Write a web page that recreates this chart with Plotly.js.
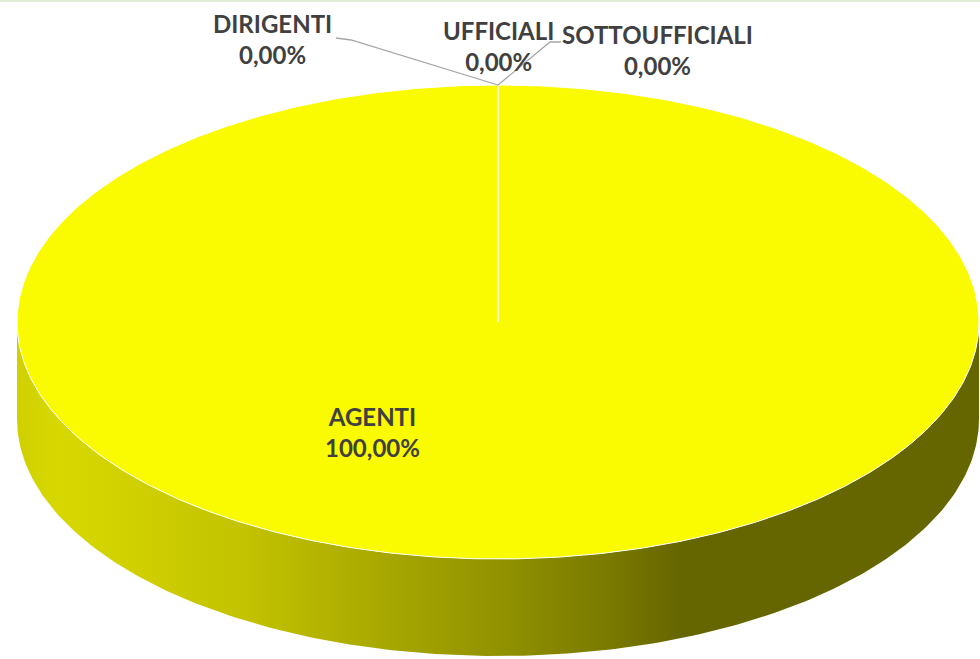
<!DOCTYPE html>
<html>
<head>
<meta charset="utf-8">
<script src="https://cdn.plot.ly/plotly-3.0.1.min.js"></script>
<style>html,body{margin:0;padding:0;background:#fff;}#chart{width:980px;height:659px;}</style>
</head>
<body>
<div id="chart"></div>
<script>
// ---- data ----
const labels = ['DIRIGENTI', 'UFFICIALI', 'SOTTOUFFICIALI', 'AGENTI'];
const values = [0, 0, 0, 100];
const topColors = ['#4f81bd', '#c0504d', '#9bbb59', '#fafa00'];
const wallScales = [
  [[0, '#3a6090'], [1, '#1f3550']],
  [[0, '#903c3a'], [1, '#502020']],
  [[0, '#748c43'], [1, '#3f4c24']],
  [[0, '#d0d000'], [0.045, '#d8d800'], [0.24, '#c2c200'], [0.40, '#a4a400'], [0.50, '#929200'], [0.606, '#7c7c00'], [0.69, '#666600'], [1, '#666600']]
];

// ---- geometry (layout) ----
const W = 980, H = 659;
const CX = 498, CY = 322, RX = 481, RY = 237, DEPTH = 97;
const labelPos = [
  {x: 272, y: 39, path: [[336, 38], [351, 40]]},
  {x: 498, y: 46, path: null},
  {x: 657, y: 50, path: [[561, 42], [550, 42]]},
  {x: 372, y: 432, path: null}
];
const FONT = {family: 'Lato, "Open Sans", sans-serif', size: 24, color: '#404040', weight: 'bold'};

function pt(aDeg, dy) {
  const a = aDeg * Math.PI / 180;
  return [CX + RX * Math.sin(a), CY - RY * Math.cos(a) + (dy || 0)];
}
function fmt(p) { return p.toFixed(2).replace('.', ',') + '%'; }

const total = values.reduce((s, v) => s + v, 0);
const traces = [];
const tops = [];
const shapes = [];
const annotations = [];
let acc = 0;
values.forEach((v, i) => {
  const a0 = acc / total * 360;
  const a1 = (acc + v) / total * 360;
  acc += v;
  // visible wall: front half is 90..270 degrees
  const w0 = Math.max(a0, 90), w1 = Math.min(a1, 270);
  if (w1 > w0) {
    const xs = [], ys = [];
    const n = 240;
    for (let k = 0; k <= n; k++) {
      const a = w0 + (w1 - w0) * k / n;
      const p = pt(a, 0); xs.push(p[0]); ys.push(p[1]);
    }
    for (let k = n; k >= 0; k--) {
      const a = w0 + (w1 - w0) * k / n;
      const p = pt(a, DEPTH); xs.push(p[0]); ys.push(p[1]);
    }
    xs.push(xs[0]); ys.push(ys[0]);
    traces.push({
      type: 'scatter', mode: 'lines', x: xs, y: ys, fill: 'toself',
      line: {width: 0, color: 'rgba(0,0,0,0)'},
      fillgradient: {type: 'horizontal', colorscale: wallScales[i], start: CX - RX, stop: CX + RX},
      hoverinfo: 'skip', showlegend: false
    });
  }
  // top face
  const xs = [CX], ys = [CY];
  const n = Math.max(2, Math.round((a1 - a0) * 2));
  for (let k = 0; k <= n; k++) {
    const p = pt(a0 + (a1 - a0) * k / n, 0); xs.push(p[0]); ys.push(p[1]);
  }
  xs.push(CX); ys.push(CY);
  tops.push({
    type: 'scatter', mode: 'lines', x: xs, y: ys, fill: 'toself',
    fillcolor: topColors[i], line: {width: 1, color: '#ffffff'},
    hoverinfo: 'skip', showlegend: false
  });
  // label
  const lp = labelPos[i];
  annotations.push({
    x: lp.x, y: lp.y, xref: 'x', yref: 'y', showarrow: false,
    text: labels[i] + '<br>' + fmt(v / total * 100),
    font: FONT, xanchor: 'center', yanchor: 'middle', align: 'center'
  });
  if (lp.path) {
    const anc = pt((a0 + a1) / 2, 0);
    const d = 'M ' + lp.path.map(q => q[0] + ' ' + q[1]).join(' L ') + ' L ' + anc[0] + ' ' + anc[1];
    shapes.push({type: 'path', xref: 'x', yref: 'y', path: d, line: {color: '#a6a6a6', width: 1.3}});
  }
});

shapes.push({type: 'rect', xref: 'x', yref: 'y', x0: 0, x1: W, y0: 0, y1: 2, fillcolor: '#e2ebd6', line: {width: 0}, layer: 'above'});

const layout = {
  width: W, height: H,
  margin: {l: 0, r: 0, t: 0, b: 0},
  paper_bgcolor: '#ffffff', plot_bgcolor: '#ffffff',
  xaxis: {range: [0, W], visible: false, fixedrange: true},
  yaxis: {range: [H, 0], visible: false, fixedrange: true},
  showlegend: false,
  shapes: shapes,
  annotations: annotations
};
Plotly.newPlot('chart', traces.concat(tops), layout, {displayModeBar: false, staticPlot: true});
</script>
</body>
</html>
